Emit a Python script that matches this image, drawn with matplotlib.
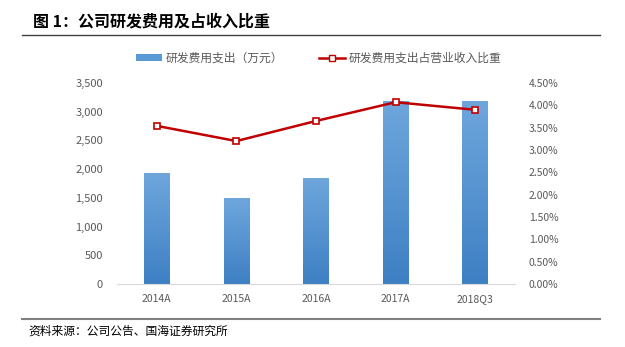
import matplotlib.pyplot as plt
import numpy as np
from matplotlib.lines import Line2D
from matplotlib.patches import Patch

plt.rcParams['font.family'] = ['Noto Sans CJK SC', 'DejaVu Sans']

years = ['2014A', '2015A', '2016A', '2017A', '2018Q3']
rd_spend = [1925, 1490, 1840, 3185, 3170]          # 万元
rd_ratio = [3.54, 3.20, 3.65, 4.07, 3.90]           # %

grey = '#595959'
red = '#C00000'

fig = plt.figure(figsize=(6.25, 3.47), dpi=100)
ax = fig.add_axes([117/625, 1-284/347, 398/625, 201/347])

x = np.arange(len(years))
w = 0.32
bars = ax.bar(x, rd_spend, width=w, color='#5B9BD5', zorder=2)

# vertical gradient on each bar
grad = np.linspace(0, 1, 100).reshape(-1, 1)
cmap = plt.matplotlib.colors.LinearSegmentedColormap.from_list('b', ['#3E80C4', '#6EA6DC'])
for b in bars:
    ax.imshow(grad, extent=(b.get_x(), b.get_x()+b.get_width(), 0, b.get_height()),
              origin='lower', cmap=cmap, aspect='auto', zorder=2)

ax.set_xlim(-0.5, len(years)-0.5)
ax.set_ylim(0, 3500)
ax.set_yticks(range(0, 3501, 500))
ax.set_yticklabels([f'{v:,}' for v in range(0, 3501, 500)])
ax.set_xticks(x)
ax.set_xticklabels(years)

ax2 = ax.twinx()
ax2.plot(x, rd_ratio, color=red, linewidth=1.8, marker='s', markersize=5,
         markerfacecolor='white', markeredgecolor=red, markeredgewidth=1.2, zorder=3)
ax2.set_ylim(0, 4.5)
ax2.set_yticks(np.arange(0, 4.51, 0.5))
ax2.set_yticklabels([f'{v:.2f}%' for v in np.arange(0, 4.51, 0.5)])

for a in (ax, ax2):
    for s in a.spines.values():
        s.set_visible(False)
    a.tick_params(length=0, labelsize=7.5, labelcolor=grey, pad=7)
ax.spines['bottom'].set_visible(True)
ax.spines['bottom'].set_color('#D9D9D9')
ax.tick_params(axis='y', pad=10, labelsize=8)
ax2.tick_params(axis='y', pad=10)

handles = [Patch(facecolor='#5B9BD5'),
           Line2D([], [], color=red, linewidth=1.8, marker='s', markersize=5,
                  markerfacecolor='white', markeredgecolor=red)]
fig.legend(handles, ['研发费用支出（万元）', '研发费用支出占营业收入比重'],
           loc='center', bbox_to_anchor=(0.51, 1-58/347), ncol=2, frameon=False,
           fontsize=8.5, labelcolor=grey, handlelength=2.2, handleheight=0.5,
           columnspacing=3.0, handletextpad=0.3)

fig.text(33/625, 1-22/347, '图 1：公司研发费用及占收入比重', fontsize=11.5, fontweight='bold',
         va='center', ha='left')
fig.add_artist(Line2D([22/625, 600/625], [1-35/347, 1-35/347], color='#404040', linewidth=1))
fig.add_artist(Line2D([22/625, 600/625], [1-319/347, 1-319/347], color='#808080', linewidth=1.5))
fig.text(28/625, 1-331/347, '资料来源：公司公告、国海证券研究所', fontsize=8.5, va='center', ha='left')

plt.savefig('out.png', dpi=100)
